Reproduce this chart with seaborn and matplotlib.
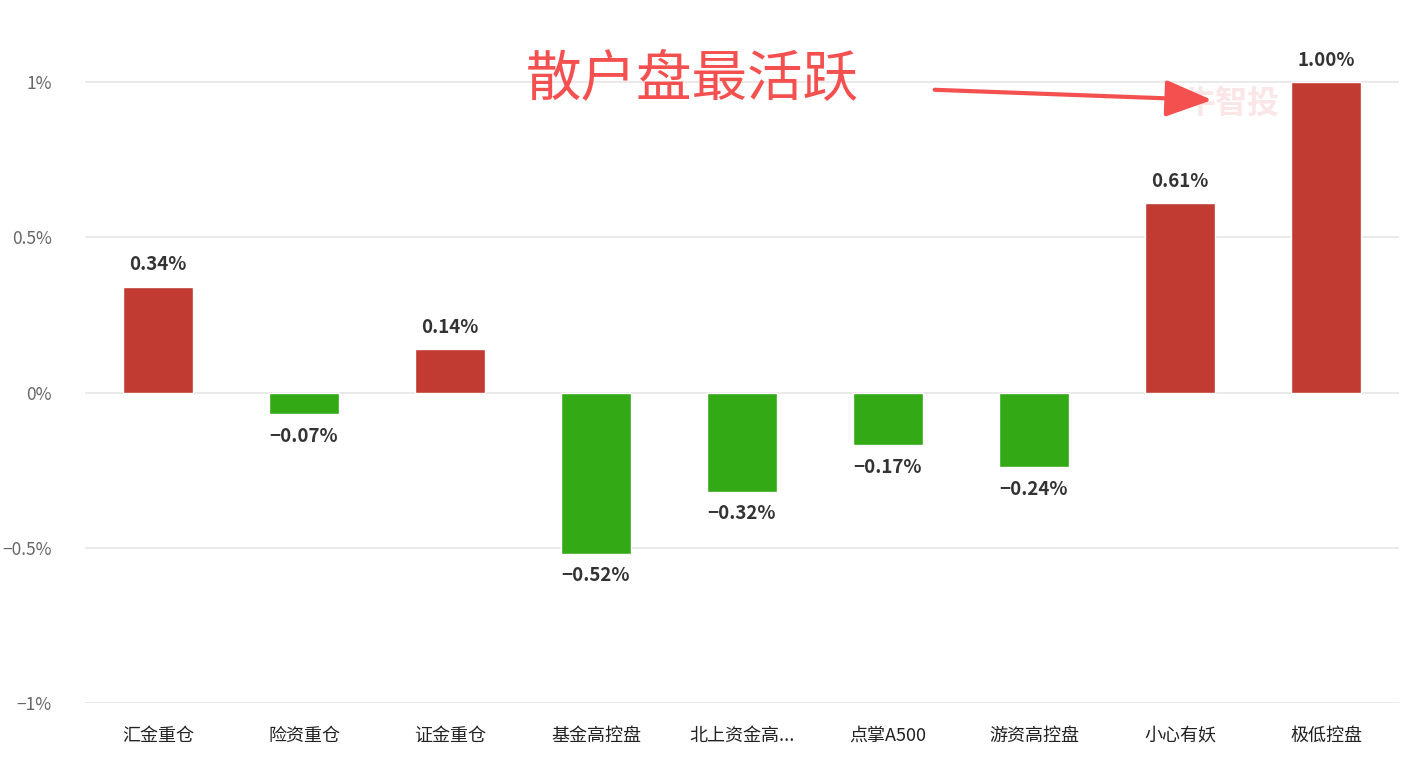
import matplotlib
matplotlib.use('Agg')
import seaborn as sns
import matplotlib.pyplot as plt
from matplotlib.ticker import FixedLocator

sns.set_theme(style='white')
plt.rcParams['font.family'] = ['Noto Sans CJK SC', 'DejaVu Sans']
plt.rcParams['axes.unicode_minus'] = True

# dados
categorias = ['汇金重仓', '险资重仓', '证金重仓', '基金高控盘', '北上资金高...',
              '点掌A500', '游资高控盘', '小心有妖', '极低控盘']
valores = [0.34, -0.07, 0.14, -0.52, -0.32, -0.17, -0.24, 0.61, 1.00]
yticks = [-1, -0.5, 0, 0.5, 1]
ytick_labels = ['−1%', '−0.5%', '0%', '0.5%', '1%']

VERMELHO = '#C13B33'
VERDE = '#33A915'
cores = [VERMELHO if v >= 0 else VERDE for v in valores]

fig = plt.figure(figsize=(14.05, 7.61), dpi=100)
ax = fig.add_axes([0.0605, 0.0762, 0.9352, 0.918])

sns.barplot(x=categorias, y=valores, hue=categorias, palette=cores,
            legend=False, width=0.48, saturation=1, ax=ax, zorder=3)

ax.set_ylim(-1, 1.25)
ax.set_xlim(-0.5, len(categorias) - 0.5)
ax.yaxis.set_major_locator(FixedLocator(yticks))
ax.set_yticklabels(ytick_labels)
ax.grid(axis='y', color='#E6E6E6', linewidth=1.2, zorder=0)
for s in ax.spines.values():
    s.set_visible(False)
ax.tick_params(axis='y', length=0, pad=24, labelsize=12.5, labelcolor='#666666')
ax.tick_params(axis='x', length=0, pad=17, labelsize=13, labelcolor='#222222')
ax.set_xlabel('')
ax.set_ylabel('')

# rótulos das barras
for i, v in enumerate(valores):
    txt = f'{v:.2f}%'.replace('-', '−')
    if v >= 0:
        ax.annotate(txt, (i, v), xytext=(0, 9), textcoords='offset points',
                    ha='center', va='bottom', fontsize=13.5, fontweight='semibold',
                    color='#333333')
    else:
        ax.annotate(txt, (i, v), xytext=(0, -9), textcoords='offset points',
                    ha='center', va='top', fontsize=13.5, fontweight='semibold',
                    color='#333333')

# marca d'água
ax.text(7.02, 0.93, '牛智投', fontsize=23, color='#F7D6D6', alpha=0.6,
        ha='left', va='center', fontweight='bold', zorder=1)

# anotação
ax.text(3.66, 1.006, '散户盘最活跃', fontsize=40, color='#F55050',
        ha='center', va='center', zorder=5)
ax.annotate('', xy=(7.22, 0.942), xytext=(5.32, 0.975),
            arrowprops=dict(arrowstyle='-|>,head_length=2.4,head_width=0.95',
                            color='#F55050', lw=3, shrinkA=0, shrinkB=0),
            zorder=5)

fig.savefig('out.png', dpi=100)
